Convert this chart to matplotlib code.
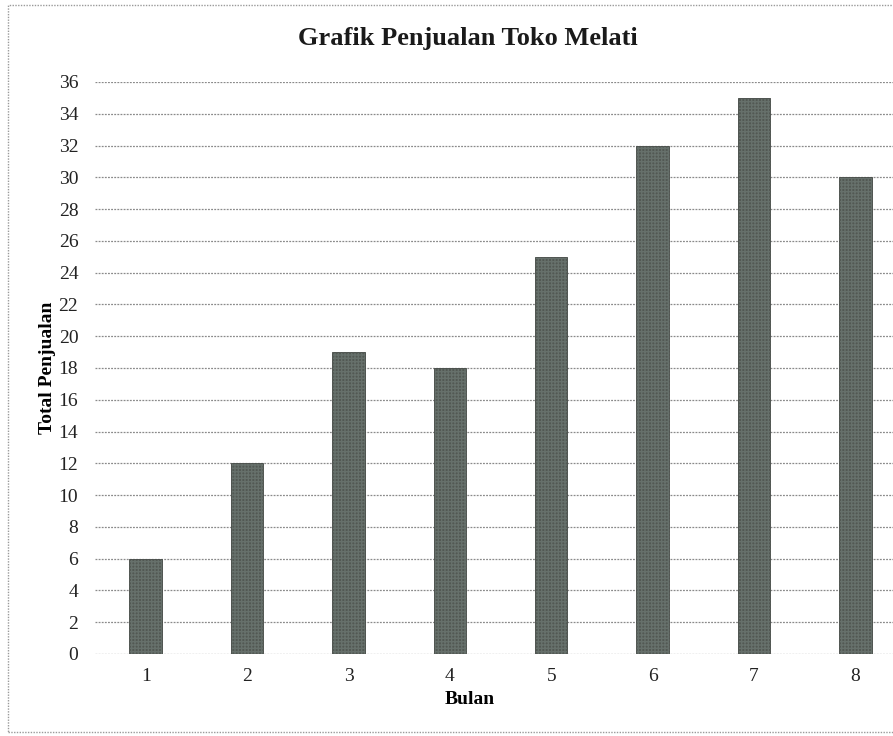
import matplotlib
matplotlib.use("Agg")
import matplotlib.pyplot as plt
from matplotlib.patches import Rectangle

months = [1, 2, 3, 4, 5, 6, 7, 8]
sales = [6, 12, 19, 18, 25, 32, 35, 30]
yticks = list(range(0, 37, 2))

plt.rcParams['font.family'] = ['Liberation Serif', 'DejaVu Serif']

W, H = 893, 736
fig = plt.figure(figsize=(W / 100, H / 100), dpi=100)
fig.patch.set_facecolor('white')

left = 95 / W
right = 906 / W
bottom = (H - 654) / H
top = (H - 82) / H
ax = fig.add_axes([left, bottom, right - left, top - bottom])
ax.set_facecolor('none')

ax.bar(months, sales, width=0.32, color='#525853', edgecolor='#474c48',
       linewidth=0.6, hatch='+++++', zorder=3)
for p in ax.patches:
    p._hatch_color = (0.40, 0.44, 0.42, 1.0)

ax.set_xlim(0.5, 8.5)
ax.set_ylim(0, 36)
ax.set_yticks(yticks)
ax.set_xticks(months)
ax.set_xticklabels([str(m) for m in months])
ax.grid(axis='y', color='#8a8a8a', linestyle=(0, (1.5, 1.0)), linewidth=0.9, zorder=0)
ax.set_axisbelow(True)
for s in ax.spines.values():
    s.set_visible(False)
ax.tick_params(axis='both', length=0, labelsize=14, colors='#222222')
ax.tick_params(axis='y', pad=12)
ax.tick_params(axis='x', pad=10)

ax.set_xlabel('Bulan', fontsize=14, fontweight='bold', labelpad=8)
ax.xaxis.set_label_coords((470 - 95) / (906 - 95), -0.064)
ax.set_ylabel('Total Penjualan', fontsize=14, fontweight='bold', labelpad=2)
fig.text(468 / W, 1 - 38 / H, 'Grafik Penjualan Toko Melati', ha='center', va='center',
         fontsize=19, fontweight='bold', color='#1a1a1a')

# outer dotted chart border
border = Rectangle((8 / W, 1 - 732 / H), (W - 6) / W, (732 - 5) / H,
                   transform=fig.transFigure, fill=False, edgecolor='#9a9a9a',
                   linestyle=(0, (1, 1)), linewidth=1.0)
fig.patches.append(border)

fig.savefig('out.png', dpi=100, facecolor='white')
